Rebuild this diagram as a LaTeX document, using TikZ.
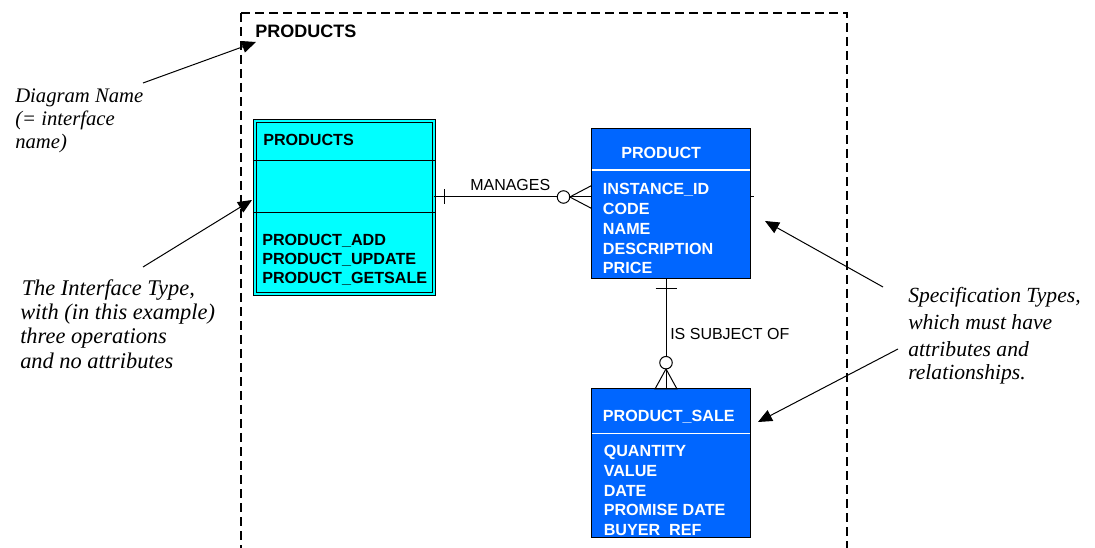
\documentclass[tikz,border=0pt]{standalone}
\usepackage{fontspec}
\setmainfont{Liberation Serif}
\setsansfont{Liberation Sans}
\usetikzlibrary{arrows.meta,calc}
\definecolor{entblue}{RGB}{0,102,255}
\definecolor{ifcyan}{RGB}{0,255,255}

\begin{document}
\begin{tikzpicture}[x=0.75pt,y=-0.75pt,
  entity/.style={draw=black, line width=0.75pt, fill=entblue, inner sep=0pt, outer sep=0pt},
  iftype/.style={draw=black, line width=0.75pt, double=ifcyan, double distance=1.3pt,
    fill=ifcyan, inner sep=0pt, outer sep=0pt},
  etext/.style={font=\sffamily\bfseries\fontsize{12.1}{14}\selectfont, inner sep=0pt, anchor=base west},
  wtext/.style={etext, text=white},
  reltext/.style={font=\sffamily\fontsize{12}{14}\selectfont, inner sep=0pt, anchor=base west},
  notetext/.style={font=\itshape\fontsize{15.5}{18}\selectfont, inner sep=0pt, anchor=base west},
  notetextl/.style={font=\itshape\fontsize{16.8}{19}\selectfont, inner sep=0pt, anchor=base west},
  notetextr/.style={font=\itshape\fontsize{16.2}{19}\selectfont, inner sep=0pt, anchor=base west},
  rel/.style={line width=0.75pt},
  optcircle/.style={circle, draw=black, line width=0.75pt, fill=white, minimum size=12.5*0.75pt, inner sep=0pt, outer sep=0pt},
  callout/.style={line width=0.75pt, -{Triangle[length=10.5pt,width=9pt]}},
  frame/.style={line width=1.2pt, dash pattern=on 7pt off 3.5pt}]
\useasboundingbox (0,0) rectangle (1095,548);

% diagram frame, open at the bottom
\draw[frame] (241,13) -- (241,548);
\draw[frame] (241,13) -- (847,13) -- (847,548);
\node[etext, font=\sffamily\bfseries\fontsize{13.5}{16}\selectfont] (title) at (255,37.7) {PRODUCTS};

% interface type
\node[iftype, minimum width=179*0.75pt, minimum height=172.3*0.75pt] (iface) at (344.15,207.5) {};
\draw[line width=0.75pt] ($(iface.north west)+(-1.9,39.35)$) -- ($(iface.north east)+(1.9,39.35)$);
\draw[line width=0.75pt] ($(iface.north west)+(-1.9,91.35)$) -- ($(iface.north east)+(1.9,91.35)$);
\node[etext] (ifname) at (263,146) {PRODUCTS};
\foreach \t [count=\i from 0] in {PRODUCT\_ADD, PRODUCT\_UPDATE, PRODUCT\_GETSALE}
  \node[etext] (op\i) at (262,245.7+18.8*\i) {\t};

% specification type PRODUCT
\node[entity, minimum width=159*0.75pt, minimum height=149.3*0.75pt] (product) at (671.2,203.65) {};
\draw[white, line width=1pt] ($(product.north west)+(0.5,41)$) -- ($(product.north east)+(-0.5,41)$);
\node[wtext] (pname) at (621,159) {PRODUCT};
\foreach \t [count=\i from 0] in {INSTANCE\_ID, CODE, NAME, DESCRIPTION, PRICE}
  \node[wtext] (pa\i) at (602.7,195+19.75*\i) {\t};

% specification type PRODUCT_SALE
\node[entity, minimum width=159*0.75pt, minimum height=148.7*0.75pt] (sale) at (671.2,463.35) {};
\draw[white, line width=1pt] ($(sale.north west)+(0.5,44.3)$) -- ($(sale.north east)+(-0.5,44.3)$);
\node[wtext] (sname) at (602.7,421.7) {PRODUCT\_SALE};
\foreach \t [count=\i from 0] in {QUANTITY, VALUE, DATE, PROMISE DATE, BUYER\_REF}
  \node[wtext] (sa\i) at (603.5,456.7+19.7*\i) {\t};
% border redrawn over the last attribute line
\fill[entblue] ($(sale.south west)+(1,-1.8)$) rectangle ($(sale.south east)+(-1,0)$);
\draw[line width=0.75pt] (sale.north west) rectangle (sale.south east);

% relationship MANAGES
\coordinate (mrow) at (0,197);
\node[optcircle] (mo) at (563.5,197) {};
\draw[rel] (iface.east |- mrow) -- (mo.west);
\draw[rel] ($(iface.east |- mrow)+(11,-7.5)$) -- ++(0,15);
\draw[rel] (mo.east) -- (product.west |- mrow);
\draw[rel] ($(product.west |- mrow)+(0,-11.5)$) -- (mo.east) -- ($(product.west |- mrow)+(0,11.5)$);
\draw[rel] (product.east |- mrow) -- ++(3.5,0);
\node[reltext] (mlabel) at (470,190.7) {MANAGES};

% relationship IS SUBJECT OF
\coordinate (scol) at (666,0);
\node[optcircle] (so) at (666,362.7) {};
\draw[rel] (product.south -| scol) -- (so.north);
\draw[rel] ($(product.south -| scol)+(-10.5,10)$) -- ++(21,0);
\draw[rel] (so.south) -- (sale.north -| scol);
\draw[rel] ($(sale.north -| scol)+(-11,0)$) -- (so.south) -- ($(sale.north -| scol)+(11,0)$) -- cycle;
\node[reltext] (slabel) at (670,339.3) {IS SUBJECT OF};

% annotations
\node[notetext] (dn1) at (15,103) {Diagram Name};
\node[notetext] (dn2) at (15,126) {(= interface};
\node[notetext] (dn3) at (15,149) {name)};

\node[notetextl] (it1) at (21.5,295.5) {The Interface Type,};
\node[notetextl] (it2) at (20,320) {with (in this example)};
\node[notetextl] (it3) at (20,344) {three operations};
\node[notetextl] (it4) at (20,368.3) {and no attributes};

\node[notetextr] (st1) at (908,303) {Specification Types,};
\node[notetextr] (st2) at (908,330) {which must have};
\node[notetextr] (st3) at (908,356.5) {attributes and};
\node[notetextr] (st4) at (908,380) {relationships.};

\coordinate (dnTail) at (143,83);
\coordinate (dnTip) at (256,42);
\coordinate (itTail) at (143,267);
\coordinate (itTip) at (252,200);
\coordinate (stTailA) at (883,287);
\coordinate (stTipA) at (765,221);
\coordinate (stTailB) at (898,349);
\coordinate (stTipB) at (758,422);
\draw[callout] (dnTail) -- (dnTip);
\draw[callout] (itTail) -- (itTip);
\draw[callout] (stTailA) -- (stTipA);
\draw[callout] (stTailB) -- (stTipB);
\end{tikzpicture}
\end{document}
